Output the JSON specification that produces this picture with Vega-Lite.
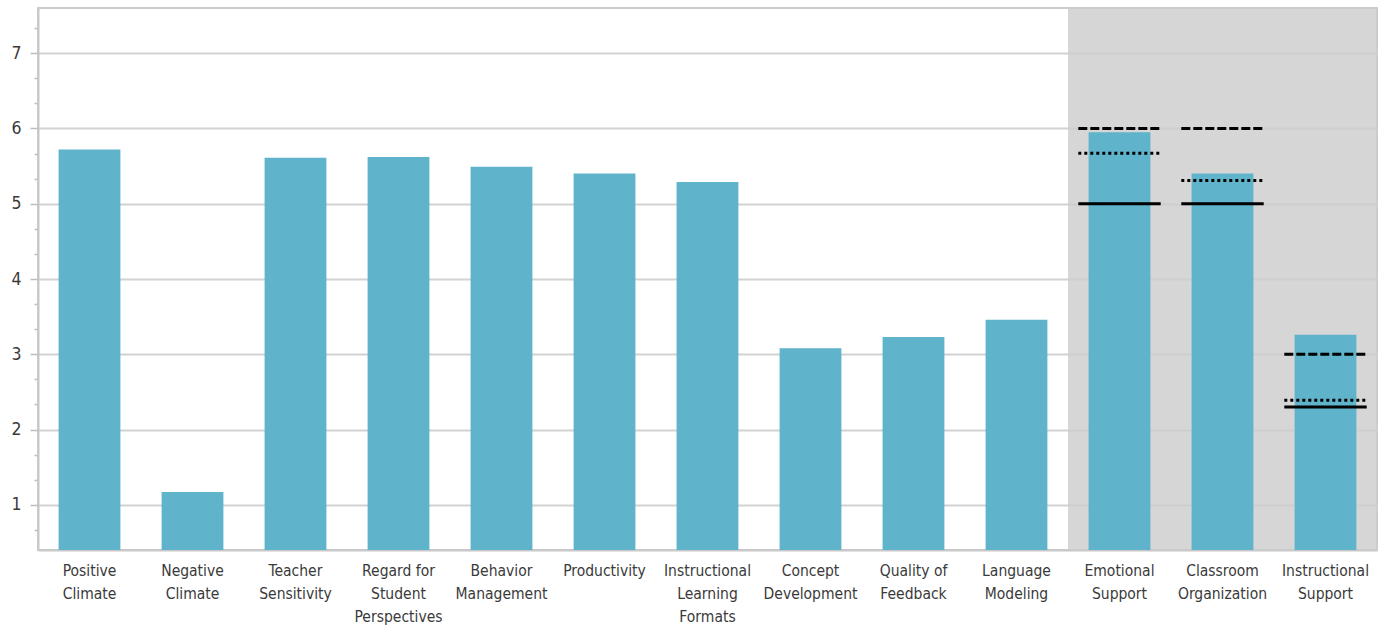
{
  "$schema": "https://vega.github.io/schema/vega-lite/v6.json",
  "width": 1339,
  "height": 542,
  "autosize": "none",
  "padding": {"left": 38, "top": 8, "right": 7, "bottom": 76},
  "background": "white",
  "config": {
    "view": {"stroke": "#cccccc", "strokeWidth": 2},
    "font": "DejaVu Sans Condensed",
    "axis": {
      "labelFont": "DejaVu Sans Condensed",
      "labelFontSize": 16,
      "labelColor": "#3a3a3a",
      "domainColor": "#c8c8c8",
      "domainWidth": 2,
      "tickColor": "#bdbdbd",
      "tickWidth": 1.5
    }
  },
  "datasets": {
    "scores": [
      {"metric": "Positive Climate", "level": "Dimension", "score": 5.72},
      {"metric": "Negative Climate", "level": "Dimension", "score": 1.17},
      {"metric": "Teacher Sensitivity", "level": "Dimension", "score": 5.61},
      {"metric": "Regard for Student Perspectives", "level": "Dimension", "score": 5.62},
      {"metric": "Behavior Management", "level": "Dimension", "score": 5.49},
      {"metric": "Productivity", "level": "Dimension", "score": 5.40},
      {"metric": "Instructional Learning Formats", "level": "Dimension", "score": 5.29},
      {"metric": "Concept Development", "level": "Dimension", "score": 3.08},
      {"metric": "Quality of Feedback", "level": "Dimension", "score": 3.23},
      {"metric": "Language Modeling", "level": "Dimension", "score": 3.46},
      {"metric": "Emotional Support", "level": "Domain", "score": 5.95},
      {"metric": "Classroom Organization", "level": "Domain", "score": 5.40},
      {"metric": "Instructional Support", "level": "Domain", "score": 3.26}
    ],
    "benchmarks": [
      {"metric": "Emotional Support", "benchmark": "Upper", "value": 6.0},
      {"metric": "Emotional Support", "benchmark": "Middle", "value": 5.67},
      {"metric": "Emotional Support", "benchmark": "Lower", "value": 5.0},
      {"metric": "Classroom Organization", "benchmark": "Upper", "value": 6.0},
      {"metric": "Classroom Organization", "benchmark": "Middle", "value": 5.31},
      {"metric": "Classroom Organization", "benchmark": "Lower", "value": 5.0},
      {"metric": "Instructional Support", "benchmark": "Upper", "value": 3.0},
      {"metric": "Instructional Support", "benchmark": "Middle", "value": 2.39},
      {"metric": "Instructional Support", "benchmark": "Lower", "value": 2.3}
    ]
  },
  "layer": [
    {
      "data": {"name": "scores"},
      "transform": [{"filter": "datum.level == 'Domain'"}],
      "mark": {"type": "bar", "color": "#cccccc", "opacity": 0.81, "width": {"band": 1}},
      "encoding": {
        "x": {
          "field": "metric",
          "type": "nominal",
          "scale": {
            "domain": ["Positive Climate", "Negative Climate", "Teacher Sensitivity", "Regard for Student Perspectives", "Behavior Management", "Productivity", "Instructional Learning Formats", "Concept Development", "Quality of Feedback", "Language Modeling", "Emotional Support", "Classroom Organization", "Instructional Support"],
            "paddingInner": 0,
            "paddingOuter": 0
          },
          "axis": {
            "title": null,
            "labelAngle": 0,
            "ticks": false,
            "labelFontSize": 15.5,
            "labelPadding": 13,
            "labelLineHeight": 23,
            "labelOverlap": false,
            "labelExpr": "datum.label == 'Regard for Student Perspectives' ? ['Regard for', 'Student', 'Perspectives'] : datum.label == 'Quality of Feedback' ? ['Quality of', 'Feedback'] : split(datum.label, ' ')"
          }
        }
      }
    },
    {
      "data": {"name": "scores"},
      "mark": {"type": "bar", "color": "#5fb3cb", "width": {"band": 0.6}, "clip": true},
      "encoding": {
        "x": {"field": "metric", "type": "nominal"},
        "y": {
          "field": "score",
          "type": "quantitative",
          "scale": {"domain": [0.4, 7.6], "zero": false, "nice": false},
          "axis": {
            "title": null,
            "values": [0.6667, 1, 1.3333, 1.6667, 2, 2.3333, 2.6667, 3, 3.3333, 3.6667, 4, 4.3333, 4.6667, 5, 5.3333, 5.6667, 6, 6.3333, 6.6667, 7, 7.3333],
            "tickCount": 100,
            "grid": true,
            "gridColor": "#d2d2d2",
            "gridWidth": 2,
            "gridOpacity": {"condition": {"test": "abs(datum.value - round(datum.value)) < 0.01", "value": 1}, "value": 0},
            "tickSize": {"condition": {"test": "abs(datum.value - round(datum.value)) < 0.01", "value": 8}, "value": 4},
            "labelFontSize": 17.5,
            "labelPadding": 9,
            "labelOverlap": false,
            "labelExpr": "abs(datum.value - round(datum.value)) < 0.01 ? format(datum.value, 'd') : ''"
          }
        }
      }
    },
    {
      "data": {"name": "benchmarks"},
      "mark": {"type": "rule", "color": "#000000", "strokeWidth": 3},
      "encoding": {
        "x": {"field": "metric", "type": "nominal", "bandPosition": 0.1},
        "x2": {"field": "metric", "bandPosition": 0.9},
        "y": {"field": "value", "type": "quantitative"},
        "strokeDash": {
          "field": "benchmark",
          "type": "nominal",
          "scale": {"domain": ["Upper", "Middle", "Lower"], "range": [[9, 3], [3, 3], [1, 0]]},
          "legend": null
        }
      }
    }
  ]
}
